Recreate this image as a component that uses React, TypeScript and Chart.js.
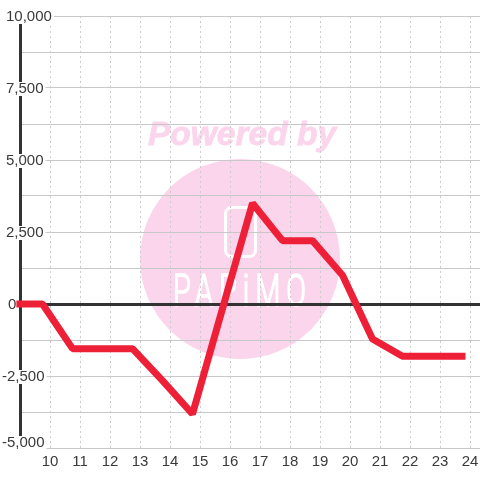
import React, { useEffect, useRef } from "react";
import { Chart, registerables } from "chart.js";

Chart.register(...registerables);

const hours = [8.88, 9.75, 10.75, 11.75, 12.75, 13.75, 14.75, 16.75, 17.75, 18.75, 19.75, 20.75, 21.75, 22.75, 23.85];
const values = [0, 0, -1550, -1550, -1550, -2660, -3820, 3500, 2200, 2200, 1000, -1215, -1815, -1815, -1815];
const xTicks = [10, 11, 12, 13, 14, 15, 16, 17, 18, 19, 20, 21, 22, 23, 24];
const yGrid = [10000, 8750, 7500, 6250, 5000, 3750, 2500, 1250, 0, -1250, -2500, -3750, -5000];
const yLabelled = [10000, 7500, 5000, 2500, 0, -2500, -5000];

const FONT = '15px "Liberation Sans"';
const TEXT = "#3a3a3a";
const PINK = "#fbd5ec";

const labelLeft = (v: number) => (v < 0 ? 2 : v === 0 ? 8 : 6);
const labelShift = (v: number) => (v === -5000 ? -5 : 1);

const watermark = {
  id: "watermark",
  beforeDraw(chart: any) {
    const c = chart.ctx;
    c.save();
    c.fillStyle = "#ffffff";
    c.fillRect(0, 0, 480, 480);
    c.fillStyle = PINK;
    c.beginPath();
    c.arc(240, 259, 100, 0, Math.PI * 2);
    c.fill();
    c.font = 'italic bold 33.5px "Liberation Sans"';
    c.textBaseline = "alphabetic";
    c.textAlign = "left";
    c.fillText("Powered by", 148, 145);
    c.strokeStyle = PINK;
    c.lineWidth = 0.8;
    c.strokeText("Powered by", 148, 145);
    c.strokeStyle = "#ffffff";
    c.lineWidth = 3;
    c.beginPath();
    c.roundRect(225.5, 207.5, 30, 49, 6);
    c.stroke();
    c.fillStyle = "#ffffff";
    c.font = "300 44px Roboto";
    c.translate(173, 306);
    c.scale(0.66, 1);
    (c as any).letterSpacing = "9px";
    c.lineWidth = 1.6;
    c.fillText("PAPiMO", 0, 0);
    c.strokeText("PAPiMO", 0, 0);
    c.restore();
  },
};

const yLabels = {
  id: "yLabels",
  beforeDatasetsDraw(chart: any) {
    const c = chart.ctx;
    const s = chart.scales.y;
    c.save();
    c.font = FONT;
    c.textAlign = "left";
    c.textBaseline = "middle";
    for (const t of s.ticks) {
      if (!yLabelled.includes(t.value)) continue;
      const y = s.getPixelForValue(t.value) + labelShift(t.value);
      const x = labelLeft(t.value);
      const w = c.measureText(t.label).width;
      c.fillStyle = "#ffffff";
      if (t.value !== 0) c.fillRect(x - 2, y - 7, w + 4, 14);
      c.fillStyle = TEXT;
      c.fillText(t.label, x, y);
    }
    c.restore();
  },
};

export default function App() {
  const ref = useRef<HTMLCanvasElement>(null);
  useEffect(() => {
    const chart = new Chart(ref.current!, {
      type: "line",
      data: {
        datasets: [
          {
            data: hours.map((x, i) => ({ x, y: values[i] })),
            borderColor: "#ee2038",
            borderWidth: 7,
            borderJoinStyle: "bevel",
            borderCapStyle: "butt",
            pointRadius: 0,
            tension: 0,
            clip: false,
          } as any,
        ],
      },
      options: {
        responsive: false,
        animation: false,
        layout: { autoPadding: false, padding: { top: 16, left: 0, right: 0, bottom: 0 } },
        plugins: { legend: { display: false }, tooltip: { enabled: false } },
        scales: {
          x: {
            type: "linear",
            min: 9,
            max: 24.3333,
            afterBuildTicks: (s: any) => {
              s.ticks = xTicks.map((value) => ({ value }));
            },
            afterFit: (s: any) => {
              s.height = 32;
              s.paddingLeft = 0;
              s.paddingRight = 0;
            },
            ticks: {
              autoSkip: false,
              maxRotation: 0,
              font: { family: "Liberation Sans", size: 15 },
              color: TEXT,
              padding: 5,
              callback: (v: any) => String(v),
            },
            grid: { color: "#cccccc", lineWidth: 1, drawTicks: false },
            border: { display: false, dash: [2, 3] },
          },
          y: {
            type: "linear",
            min: -5000,
            max: 10000,
            afterBuildTicks: (s: any) => {
              s.ticks = yGrid.map((value) => ({ value }));
            },
            afterFit: (s: any) => {
              s.width = 20;
            },
            ticks: {
              display: false,
              autoSkip: false,
              callback: (v: any) => Number(v).toLocaleString("en-US"),
            },
            grid: {
              color: (ctx: any) => (ctx.tick && ctx.tick.value === 0 ? "#333333" : "#c8c8c8"),
              lineWidth: (ctx: any) => (ctx.tick && ctx.tick.value === 0 ? 3 : 1),
              drawTicks: false,
            },
            border: { display: true, color: "#333333", width: 3 },
          },
        },
      },
      plugins: [watermark, yLabels],
    } as any);
    return () => chart.destroy();
  }, []);
  return (
    <canvas
      ref={ref}
      width={480}
      height={480}
      style={{ position: "fixed", left: 0, top: 0, display: "block" }}
    />
  );
}
